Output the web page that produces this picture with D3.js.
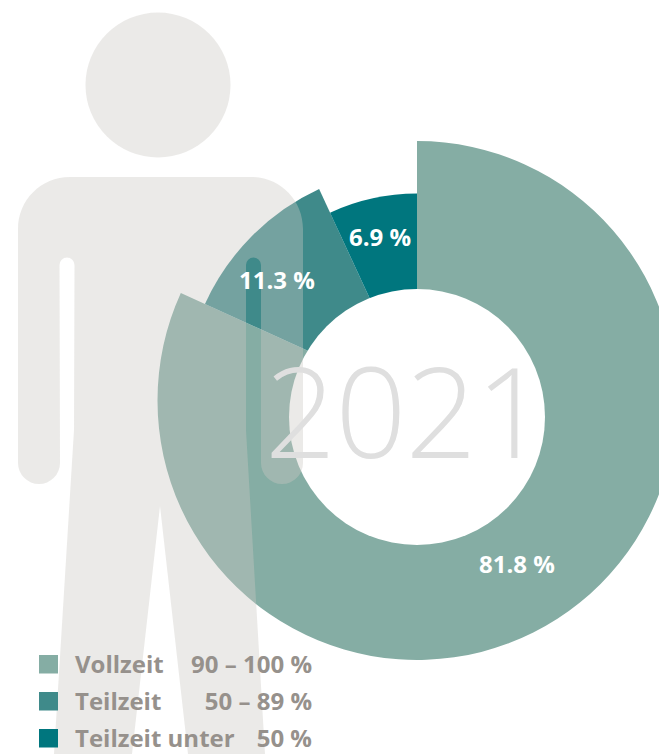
<!DOCTYPE html>
<html><head><meta charset="utf-8">
<script src="https://cdn.jsdelivr.net/npm/d3@7"></script>
<style>html,body{margin:0;padding:0;background:#fff;overflow:hidden}svg{display:block}text{font-family:"Open Sans",sans-serif}</style>
</head><body><svg id="c" width="659" height="754"></svg>
<script>
const categories = ["Vollzeit", "Teilzeit", "Teilzeit unter"];
const ranges = ["90 – 100 %", "50 – 89 %", "50 %"];
const shares = [81.8, 11.3, 6.9];
const shareLabels = ["81.8 %", "11.3 %", "6.9 %"];
const year = "2021";

const svg = d3.select("#c");
const W = 659, H = 754;
const color = d3.scaleOrdinal().domain(categories).range(["#85ada4", "#3f8a8a", "#00767e"]);
const outer = d3.scaleOrdinal().domain(categories).range([259.5, 233, 207]);
const cx = 417, cy = 400.5;

const clip = svg.append("defs").append("clipPath").attr("id","page");
clip.append("rect").attr("width",W).attr("height",H);

const pie = d3.pie().sort(null).value(d => d.v);
const rows = categories.map((c,i)=>({c, v:shares[i], l:shareLabels[i], r:ranges[i]}));
const arcs = pie(rows);
const arc = d3.arc().innerRadius(0).outerRadius(d => outer(d.data.c));

const chart = svg.append("g").attr("clip-path","url(#page)");
chart.append("g").attr("transform",`translate(${cx},${cy})`)
  .selectAll("path").data(arcs).join("path")
  .attr("d",arc).attr("fill",d=>color(d.data.c));
chart.append("circle").attr("cx",417).attr("cy",417).attr("r",128).attr("fill","#fff");

// person silhouette overlays the chart as a translucent veil
const person = d3.path();
person.moveTo(70,177); 
person.lineTo(251,177);
person.bezierCurveTo(280,177,303,200,303,229);
person.lineTo(303,463);
person.arc(282,463,21,0,Math.PI,false);
person.lineTo(261,265);
person.arc(253.5,265,7.5,0,Math.PI,true);
person.lineTo(246,430);
person.lineTo(265,754);
person.lineTo(188,754);
person.lineTo(160,506);
person.lineTo(132,754);
person.lineTo(54,754);
person.lineTo(74,430);
person.lineTo(74.5,265);
person.arc(67,265,7.5,0,Math.PI,true);
person.lineTo(60,463);
person.arc(39,463,21,0,Math.PI,false);
person.lineTo(18,229);
person.bezierCurveTo(18,200,41,177,70,177);
person.closePath();
const veil = svg.append("g").attr("fill","rgb(203,200,195)").attr("fill-opacity",0.385);
veil.append("path").attr("d",person.toString());
veil.append("circle").attr("cx",158).attr("cy",85).attr("r",72.5);

svg.append("text").attr("x",405.5).attr("y",458).attr("text-anchor","middle")
  .attr("font-size",125).attr("font-weight",300).attr("fill","#dfdfdf").attr("letter-spacing",-1)
  .text(year);

// value labels
const labelPos = d3.scaleOrdinal().domain(categories).range([[517,573],[277,289],[380,246]]);
svg.append("g").selectAll("text").data(arcs).join("text")
  .attr("x",d=>labelPos(d.data.c)[0]).attr("y",d=>labelPos(d.data.c)[1])
  .attr("text-anchor","middle").attr("font-size",24).attr("font-weight",700).attr("fill","#fff")
  .text(d=>d.data.l);

// legend
const rowY = d3.scalePoint().domain(categories).range([673,747]);
const leg = svg.append("g").selectAll("g").data(rows).join("g");
leg.append("rect").attr("x",39).attr("y",d=>rowY(d.c)-18).attr("width",19).attr("height",18.5).attr("fill",d=>color(d.c));
const t = leg.append("text").attr("y",d=>rowY(d.c)).attr("font-size",24).attr("font-weight",700).attr("fill","#96918c");
t.append("tspan").attr("x",75).text(d=>d.c);
t.append("tspan").attr("x",312).attr("text-anchor","end").text(d=>d.r);
</script></body></html>
